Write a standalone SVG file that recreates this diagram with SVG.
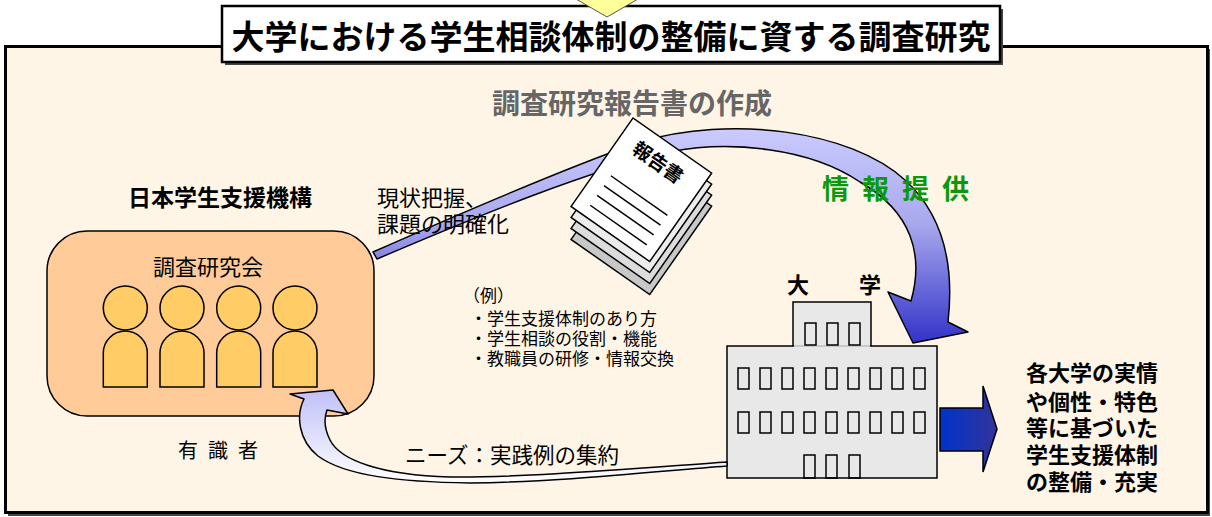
<svg xmlns="http://www.w3.org/2000/svg" width="1212" height="517" viewBox="0 0 1212 517">
  <style>
    text { font-family: "Noto Sans CJK JP", "Noto Sans", sans-serif; fill: #000; }
    .b { font-weight: bold; }
    .person { fill: #ffcc66; stroke: #000; stroke-width: 1.5; }
    .win { fill: none; stroke: #000; stroke-width: 1.5; }
    .page-line { stroke: #000; stroke-width: 1.5; }
  </style>
  <defs>
    <linearGradient id="gInfo" gradientUnits="userSpaceOnUse" x1="0" y1="125" x2="0" y2="345">
      <stop offset="0" stop-color="#ccccff"/>
      <stop offset="0.45" stop-color="#a8a8ee"/>
      <stop offset="1" stop-color="#3030c8"/>
    </linearGradient>
    <linearGradient id="gNeeds" gradientUnits="userSpaceOnUse" x1="0" y1="390" x2="0" y2="484">
      <stop offset="0" stop-color="#c0c0f8"/>
      <stop offset="1" stop-color="#ffffff"/>
    </linearGradient>
    <linearGradient id="gOut" gradientUnits="userSpaceOnUse" x1="940" y1="0" x2="997" y2="0">
      <stop offset="0" stop-color="#0033cc"/>
      <stop offset="1" stop-color="#333399"/>
    </linearGradient>
  </defs>

  <rect width="1212" height="517" fill="#ffffff"/>

  <!-- outer panel -->
  <g id="panel">
    <rect x="8" y="49" width="1202" height="467" fill="#444"/>
    <rect x="5.5" y="46.5" width="1202" height="466" fill="#fff5e6" stroke="#000" stroke-width="3"/>
  </g>

  <!-- title -->
  <g id="title">
    <rect x="225" y="9" width="778" height="56" fill="#444"/>
    <rect x="222" y="6" width="778" height="56" fill="#fff" stroke="#000" stroke-width="2.5"/>
    <polygon points="576,-1 638,-1 607,17" fill="#ffff99" stroke="#555" stroke-width="1"/>
    <text x="611" y="49" class="b" font-size="33" text-anchor="middle">大学における学生相談体制の整備に資する調査研究</text>
  </g>

  <g id="report-heading">
    <text x="632" y="114" class="b" font-size="28" text-anchor="middle" style="fill:#666">調査研究報告書の作成</text>
  </g>

  <!-- organisation with committee -->
  <g id="jasso">
    <text x="220" y="206" class="b" font-size="23" text-anchor="middle">日本学生支援機構</text>
    <rect x="47" y="231" width="327" height="185" rx="40" ry="40" fill="#ffcc99" stroke="#000" stroke-width="1.5"/>
    <text x="208" y="275" font-size="22" text-anchor="middle">調査研究会</text>
    <g id="members">
      <path class="person" d="M103.3,387 V353 A22,22 0 0 1 147.3,353 V387 Z"/>
      <circle class="person" cx="125.3" cy="308" r="22"/>
      <path class="person" d="M160,387 V353 A22,22 0 0 1 204,353 V387 Z"/>
      <circle class="person" cx="182" cy="308" r="22"/>
      <path class="person" d="M216.7,387 V353 A22,22 0 0 1 260.7,353 V387 Z"/>
      <circle class="person" cx="238.7" cy="308" r="22"/>
      <path class="person" d="M273,387 V353 A22,22 0 0 1 317,353 V387 Z"/>
      <circle class="person" cx="295" cy="308" r="22"/>
    </g>
    <text x="178" y="458" font-size="20" letter-spacing="10">有識者</text>
  </g>

  <!-- university building -->
  <g id="university">
    <text x="798" y="293" class="b" font-size="22" text-anchor="middle">大</text>
    <text x="870" y="293" class="b" font-size="22" text-anchor="middle">学</text>
    <rect x="793" y="302" width="78" height="46" fill="#e8e8e8" stroke="#000" stroke-width="1.5"/>
    <rect x="727" y="346" width="210" height="132" fill="#e8e8e8" stroke="#000" stroke-width="1.5"/>
    <line x1="794" y1="346" x2="870" y2="346" stroke="#c8c8c8" stroke-width="2"/>
    <g class="win">
      <rect x="805" y="323" width="11" height="22"/>
      <rect x="827" y="323" width="11" height="22"/>
      <rect x="849" y="323" width="11" height="22"/>

      <rect x="738" y="368" width="11" height="21"/>
      <rect x="760" y="368" width="11" height="21"/>
      <rect x="782" y="368" width="11" height="21"/>
      <rect x="804" y="368" width="11" height="21"/>
      <rect x="826" y="368" width="11" height="21"/>
      <rect x="848" y="368" width="11" height="21"/>
      <rect x="870" y="368" width="11" height="21"/>
      <rect x="892" y="368" width="11" height="21"/>
      <rect x="914" y="368" width="11" height="21"/>

      <rect x="738" y="412" width="11" height="21"/>
      <rect x="760" y="412" width="11" height="21"/>
      <rect x="782" y="412" width="11" height="21"/>
      <rect x="804" y="412" width="11" height="21"/>
      <rect x="826" y="412" width="11" height="21"/>
      <rect x="848" y="412" width="11" height="21"/>
      <rect x="870" y="412" width="11" height="21"/>
      <rect x="892" y="412" width="11" height="21"/>
      <rect x="914" y="412" width="11" height="21"/>

      <rect x="804" y="455" width="11" height="23"/>
      <rect x="826" y="455" width="11" height="23"/>
      <rect x="849" y="455" width="11" height="23"/>
    </g>
  </g>

  <!-- connectors -->
  <g id="connectors">
    <path id="info-arrow" d="M373,252 C450,218 560,170 640,142 C730,115 850,130 905,180 C940,212 955,260 948,322 L968,332 L913,343 L888,292 L911,301 C924,255 912,212 860,182 C810,148 730,140 670,152 C590,170 480,215 377,259 Z" fill="url(#gInfo)" stroke="#000" stroke-width="1.5" stroke-linejoin="round"/>
    <path id="needs-arrow" d="M727,462 C640,468 520,478 450,477 C380,475 340,460 330,440 C324,428 324,418 327,410 L348,414 L333,390 L290,394 L304,399 C296,415 298,440 318,456 C345,476 400,482 470,483 C560,482 650,472 727,466 Z" fill="url(#gNeeds)" stroke="#000" stroke-width="1.5" stroke-linejoin="round"/>
    <path id="out-arrow" d="M940,408 L983,408 L983,386 L997,429 L983,472 L983,451 L940,451 Z" fill="url(#gOut)" stroke="#000" stroke-width="1.5"/>
  </g>

  <!-- report document stack -->
  <g id="report">
    <rect transform="translate(633,151) rotate(35)" width="96" height="108" fill="#c8c8c8" stroke="#000" stroke-width="1.5"/>
    <rect transform="translate(633,140) rotate(35)" width="96" height="108" fill="#dcdcdc" stroke="#000" stroke-width="1.5"/>
    <rect transform="translate(633,129) rotate(35)" width="96" height="108" fill="#ececec" stroke="#000" stroke-width="1.5"/>
    <g transform="translate(633,118) rotate(35)">
      <rect width="96" height="108" fill="#fff" stroke="#000" stroke-width="1.5"/>
      <text x="46" y="29" font-size="19" class="b" text-anchor="middle">報告書</text>
      <line class="page-line" x1="15" y1="60" x2="84" y2="60"/>
      <line class="page-line" x1="15" y1="72" x2="84" y2="72"/>
      <line class="page-line" x1="15" y1="84" x2="84" y2="84"/>
      <line class="page-line" x1="15" y1="96" x2="84" y2="96"/>
    </g>
  </g>

  <g id="info-label">
    <text x="822" y="199" class="b" font-size="27" letter-spacing="13" style="fill:#0a990a">情報提供</text>
  </g>

  <g id="survey-label">
    <text font-size="22">
      <tspan x="377" y="206">現状把握、</tspan>
      <tspan x="377" y="232">課題の明確化</tspan>
    </text>
  </g>

  <g id="examples">
    <text font-size="17">
      <tspan x="463" y="302">（例）</tspan>
      <tspan x="470" y="325">・学生支援体制のあり方</tspan>
      <tspan x="470" y="345">・学生相談の役割・機能</tspan>
      <tspan x="470" y="365">・教職員の研修・情報交換</tspan>
    </text>
  </g>

  <g id="needs-label">
    <text x="405" y="463" font-size="21.5">ニーズ：実践例の集約</text>
  </g>

  <g id="outcome">
    <text class="b" font-size="22">
      <tspan x="1026" y="381">各大学の実情</tspan>
      <tspan x="1026" y="410">や個性・特色</tspan>
      <tspan x="1026" y="436">等に基づいた</tspan>
      <tspan x="1026" y="463">学生支援体制</tspan>
      <tspan x="1026" y="490">の整備・充実</tspan>
    </text>
  </g>
</svg>
